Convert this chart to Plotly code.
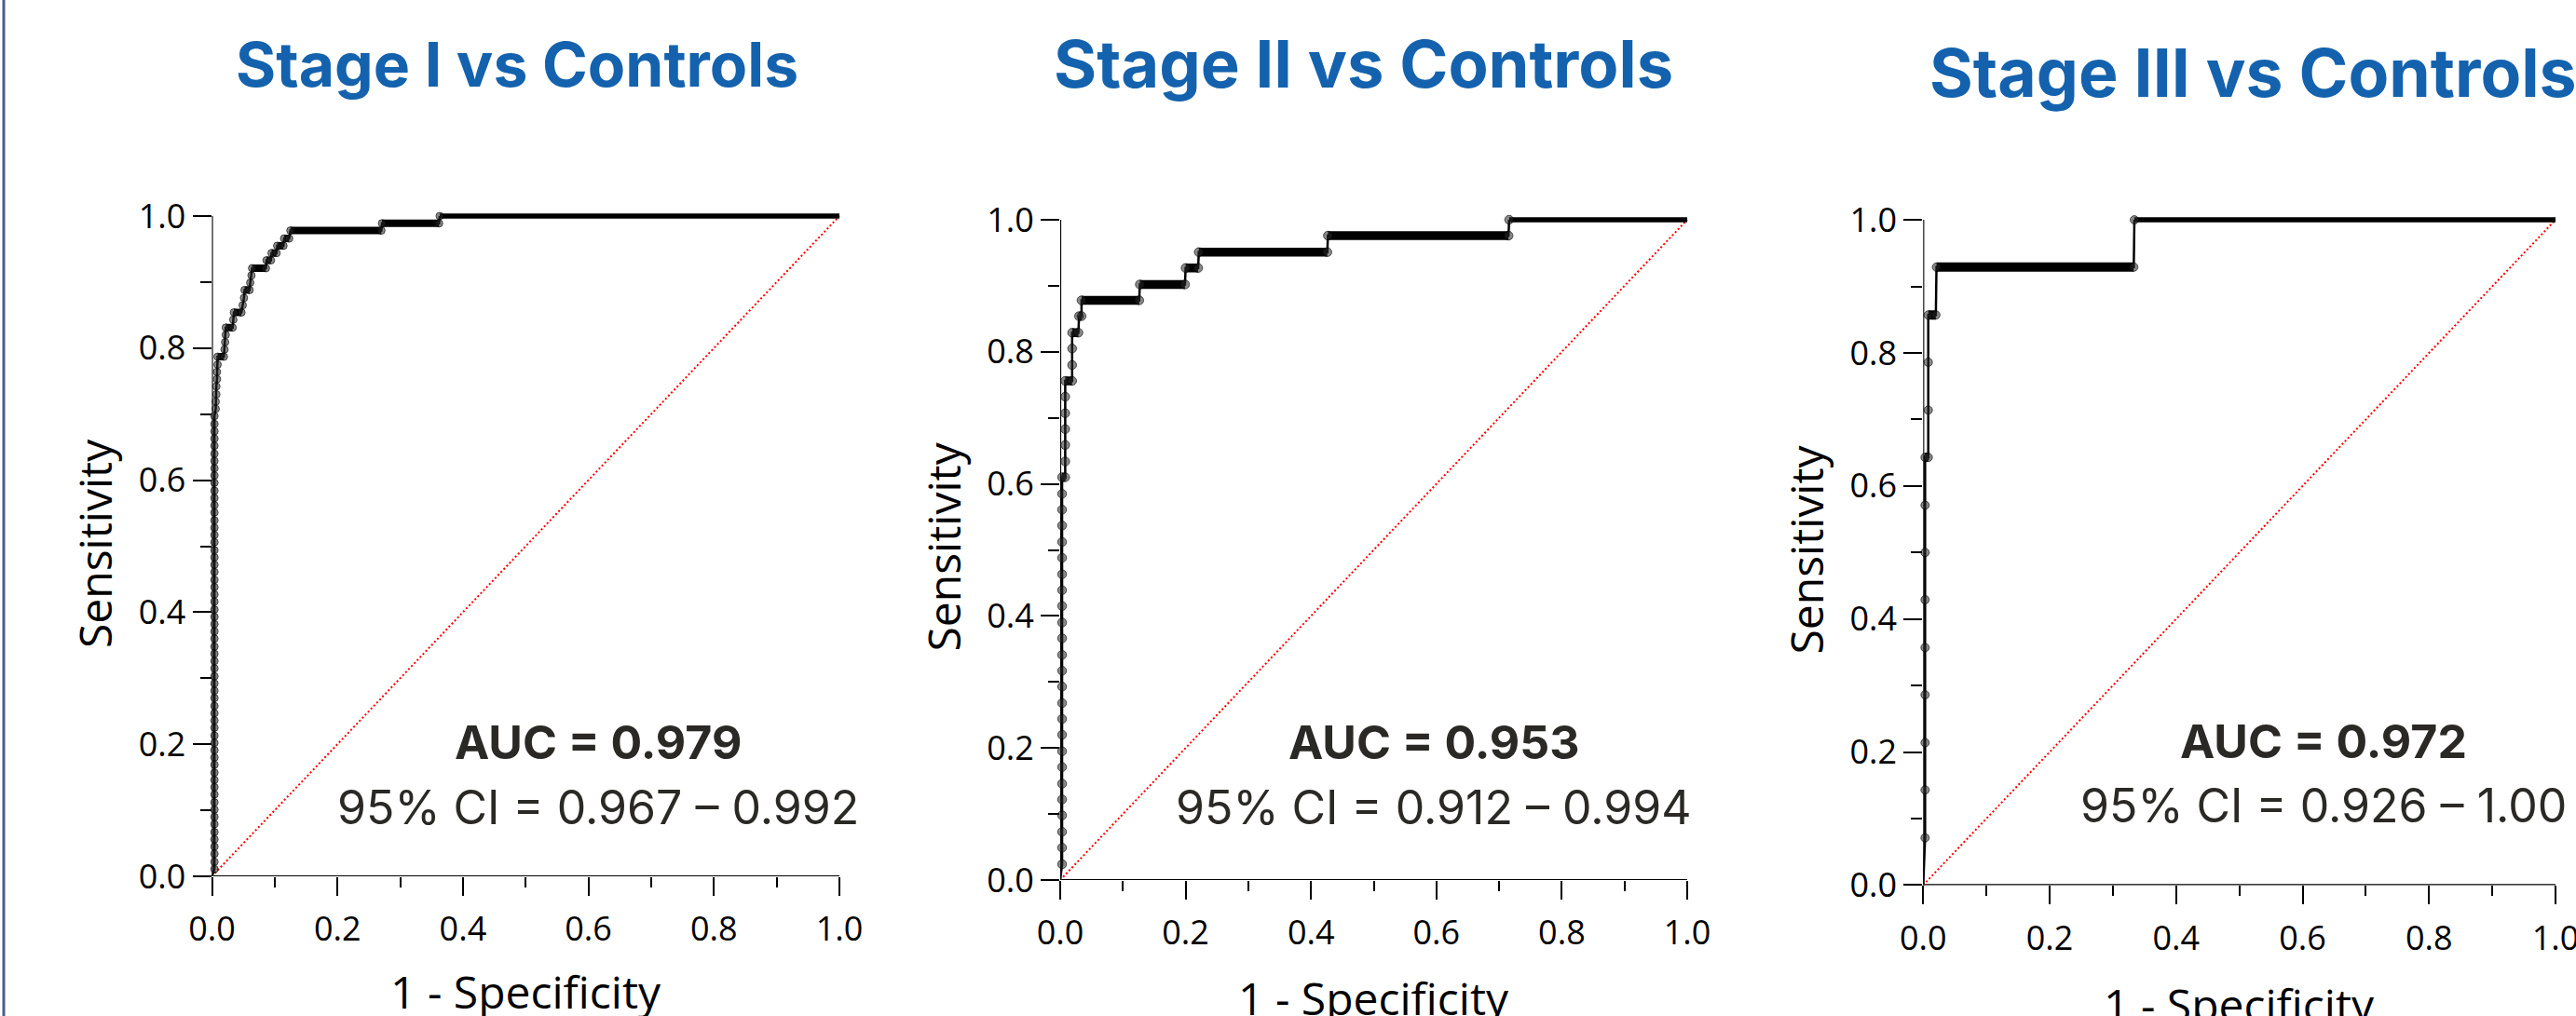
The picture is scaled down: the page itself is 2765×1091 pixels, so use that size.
import plotly.graph_objects as go

W, H = 2765, 1091

titles = ["Stage I vs Controls", "Stage II vs Controls", "Stage III vs Controls"]
auc_texts = ["<b>AUC = 0.979</b>", "<b>AUC = 0.953</b>", "<b>AUC = 0.972</b>"]
ci_texts = ["95% CI = 0.967 – 0.992", "95% CI = 0.912 – 0.994", "95% CI = 0.926 – 1.00"]
x_title = "1 - Specificity"
y_title = "Sensitivity"

# ---- Stage I ----
s1_col_fpr = 0.004
s1_col_tpr = [0.011, 0.022, 0.034, 0.045, 0.056, 0.067, 0.079, 0.090, 0.101, 0.112,
              0.124, 0.135, 0.146, 0.157, 0.169, 0.180, 0.191, 0.202, 0.213, 0.225,
              0.236, 0.247, 0.258, 0.270, 0.281, 0.292, 0.303, 0.315, 0.326, 0.337,
              0.348, 0.360, 0.371, 0.382, 0.393, 0.404, 0.416, 0.427, 0.438, 0.449,
              0.461, 0.472, 0.483, 0.494, 0.506, 0.517, 0.528, 0.539, 0.551, 0.562,
              0.573, 0.584, 0.596, 0.607, 0.618, 0.629, 0.640, 0.652, 0.663, 0.674,
              0.685, 0.697]
s1_fpr = [0.006, 0.006, 0.007, 0.007, 0.008, 0.008, 0.009, 0.009, 0.019, 0.020,
          0.021, 0.022, 0.022, 0.033, 0.034, 0.035, 0.047, 0.049, 0.051, 0.052,
          0.060, 0.061, 0.063, 0.064, 0.086, 0.087, 0.094, 0.095, 0.103, 0.104,
          0.114, 0.115, 0.123, 0.125, 0.270, 0.271, 0.362, 0.363]
s1_tpr = [0.708, 0.719, 0.730, 0.742, 0.753, 0.764, 0.775, 0.787, 0.787, 0.798,
          0.809, 0.820, 0.831, 0.831, 0.843, 0.854, 0.854, 0.865, 0.876, 0.888,
          0.888, 0.899, 0.910, 0.921, 0.921, 0.933, 0.933, 0.944, 0.944, 0.955,
          0.955, 0.966, 0.966, 0.978, 0.978, 0.989, 0.989, 1.000]
s1_run_x0 = [0.009, 0.022, 0.035, 0.052, 0.064, 0.087, 0.095, 0.104, 0.115, 0.125, 0.271]
s1_run_x1 = [0.019, 0.033, 0.047, 0.060, 0.086, 0.094, 0.103, 0.114, 0.123, 0.270, 0.362]
s1_run_y = [0.787, 0.831, 0.854, 0.888, 0.921, 0.933, 0.944, 0.955, 0.966, 0.978, 0.989]
s1_top_x0 = 0.363

# ---- Stage II ----
s2_col_fpr = 0.003
s2_col_tpr = [0.024, 0.049, 0.073, 0.098, 0.122, 0.146, 0.171, 0.195, 0.220, 0.244,
              0.268, 0.293, 0.317, 0.341, 0.366, 0.390, 0.415, 0.439, 0.463, 0.488,
              0.512, 0.537, 0.561, 0.585, 0.610]
s2_fpr = [0.008, 0.008, 0.008, 0.008, 0.008, 0.008, 0.008, 0.019, 0.019, 0.019,
          0.019, 0.029, 0.030, 0.034, 0.034, 0.126, 0.127, 0.199, 0.200, 0.220,
          0.221, 0.426, 0.427, 0.715, 0.716]
s2_tpr = [0.610, 0.634, 0.659, 0.683, 0.707, 0.732, 0.756, 0.756, 0.780, 0.805,
          0.829, 0.829, 0.854, 0.854, 0.878, 0.878, 0.902, 0.902, 0.927, 0.927,
          0.951, 0.951, 0.976, 0.976, 1.000]
s2_run_x0 = [0.003, 0.008, 0.019, 0.030, 0.034, 0.127, 0.200, 0.221, 0.427]
s2_run_x1 = [0.008, 0.019, 0.029, 0.034, 0.126, 0.199, 0.220, 0.426, 0.715]
s2_run_y = [0.610, 0.756, 0.829, 0.854, 0.878, 0.902, 0.927, 0.951, 0.976]
s2_top_x0 = 0.716

# ---- Stage III ----
s3_col_fpr = 0.003
s3_col_tpr = [0.071, 0.143, 0.214, 0.286, 0.357, 0.429, 0.500, 0.571, 0.643]
s3_fpr = [0.008, 0.008, 0.008, 0.008, 0.020, 0.021, 0.333, 0.334]
s3_tpr = [0.643, 0.714, 0.786, 0.857, 0.857, 0.929, 0.929, 1.000]
s3_run_x0 = [0.003, 0.008, 0.021]
s3_run_x1 = [0.008, 0.020, 0.333]
s3_run_y = [0.643, 0.857, 0.929]
s3_top_x0 = 0.334

panels_data = [
    (s1_col_fpr, s1_col_tpr, s1_fpr, s1_tpr, s1_run_x0, s1_run_x1, s1_run_y, s1_top_x0),
    (s2_col_fpr, s2_col_tpr, s2_fpr, s2_tpr, s2_run_x0, s2_run_x1, s2_run_y, s2_top_x0),
    (s3_col_fpr, s3_col_tpr, s3_fpr, s3_tpr, s3_run_x0, s3_run_x1, s3_run_y, s3_top_x0),
]

# ---- layout (pixel calibration of each panel) ----
geom = [
    dict(x0=227.5, x1=901.0, y0=941.0, y1=232.0),
    dict(x0=1138.0, x1=1811.0, y0=945.0, y1=236.0),
    dict(x0=2064.3, x1=2743.0, y0=950.4, y1=236.1),
]
title_pos = [(554.5, 68.5, 66), (1463.5, 68.5, 70.5), (2418, 78, 71.5)]
auc_pos = [(642, 796.5), (1539, 796.5), (2494, 795.5)]
ci_pos = [(642, 866.5), (1539, 866.5), (2494, 865)]
xt_pos = [1064, 1071, 1078]
EXT = 1.02
marker_sizes = [8, 9.5, 9]
run_widths = [8, 9.5, 10]

def pxx(x):
    return x / W

def pyy(y):
    return 1 - y / H

fig = go.Figure()
annotations = []
shapes = []

for i, (col_fpr, col_tpr, fpr, tpr, rx0, rx1, ry, top_x0) in enumerate(panels_data):
    g = geom[i]
    sfx = "" if i == 0 else str(i + 1)
    xa, ya = "x" + sfx, "y" + sfx

    # chance line
    fig.add_trace(go.Scatter(x=[0, 1], y=[0, 1], mode="lines", xaxis=xa, yaxis=ya,
                             line=dict(color="#ff0000", width=2, dash="2px,2.5px"),
                             hoverinfo="skip"))
    # dense runs of overlapping points
    run_x, run_y = [], []
    for a, b, c in zip(rx0, rx1, ry):
        run_x += [a, b, None]
        run_y += [c, c, None]
    fig.add_trace(go.Scatter(x=run_x, y=run_y, mode="lines", xaxis=xa, yaxis=ya,
                             line=dict(color="black", width=run_widths[i]),
                             hoverinfo="skip"))
    # final plateau at sensitivity 1
    fig.add_trace(go.Scatter(x=[top_x0, 1.0], y=[1.0, 1.0], mode="lines", xaxis=xa, yaxis=ya,
                             line=dict(color="black", width=5.5), hoverinfo="skip"))
    # step curve
    cx = [0.0] + [col_fpr] * len(col_tpr) + fpr
    cy = [0.0] + col_tpr + tpr
    fig.add_trace(go.Scatter(x=cx, y=cy, mode="lines", xaxis=xa, yaxis=ya,
                             line=dict(color="black", width=2.5), hoverinfo="skip"))
    # points
    fig.add_trace(go.Scatter(x=cx[1:], y=cy[1:], mode="markers", xaxis=xa, yaxis=ya,
                             cliponaxis=False,
                             marker=dict(size=marker_sizes[i], color="rgba(40,40,40,0.55)",
                                         line=dict(color="rgba(0,0,0,0.6)", width=1)),
                             hoverinfo="skip"))

    xd = [pxx(g["x0"]), pxx(g["x0"] + EXT * (g["x1"] - g["x0"]))]
    yd = [pyy(g["y0"]), pyy(g["y0"] - EXT * (g["y0"] - g["y1"]))]
    common = dict(range=[0, EXT], showline=False, showgrid=False, zeroline=False,
                  automargin=False, ticklabeloverflow="allow",
                  ticks="outside", ticklen=20, tickwidth=2, tickcolor="black",
                  tick0=0, dtick=0.2, tickformat=".1f", fixedrange=True,
                  tickfont=dict(family="Open Sans", size=36, color="black"))
    fig.update_layout(**{
        "xaxis" + sfx: dict(domain=xd, anchor=ya, ticklabelstandoff=5,
                            minor=dict(ticks="outside", dtick=0.1, ticklen=11, tickwidth=2, tickcolor="black"),
                            **common),
        "yaxis" + sfx: dict(domain=yd, anchor=xa,
                            minor=dict(ticks="outside", dtick=0.1, ticklen=12, tickwidth=2, tickcolor="black"),
                            **common),
    })
    # axis lines
    shapes.append(dict(type="line", xref=xa, yref=ya, x0=0, x1=1, y0=0, y1=0,
                       line=dict(color="black", width=2.2), layer="below"))
    shapes.append(dict(type="line", xref=xa, yref=ya, x0=0, x1=0, y0=0, y1=1,
                       line=dict(color="black", width=2.2), layer="below"))

    tx, ty, tsz = title_pos[i]
    annotations.append(dict(text=titles[i], x=pxx(tx), y=pyy(ty), xref="paper", yref="paper",
                            xanchor="center", yanchor="middle", showarrow=False,
                            font=dict(family="Inter", size=tsz, color="#1462ae", weight=700)))
    annotations.append(dict(text=auc_texts[i], x=pxx(auc_pos[i][0]), y=pyy(auc_pos[i][1]),
                            xref="paper", yref="paper", xanchor="center", yanchor="middle",
                            showarrow=False, font=dict(family="Inter", size=50, color="#2b2926")))
    annotations.append(dict(text=ci_texts[i], x=pxx(ci_pos[i][0]), y=pyy(ci_pos[i][1]),
                            xref="paper", yref="paper", xanchor="center", yanchor="middle",
                            showarrow=False, font=dict(family="Inter", size=50, color="#2b2926")))
    annotations.append(dict(text=x_title, x=pxx((g["x0"] + g["x1"]) / 2), y=pyy(xt_pos[i]),
                            xref="paper", yref="paper", xanchor="center", yanchor="middle",
                            showarrow=False, font=dict(family="Open Sans", size=48, color="black")))
    annotations.append(dict(text=y_title, x=pxx(g["x0"] - 126), y=pyy((g["y0"] + g["y1"]) / 2 - 3),
                            xref="paper", yref="paper", xanchor="center", yanchor="middle",
                            textangle=-90, showarrow=False,
                            font=dict(family="Open Sans", size=48, color="black")))

# left border line
shapes.append(dict(type="line", xref="paper", yref="paper", x0=pxx(4), x1=pxx(4), y0=0, y1=1,
                   line=dict(color="#4a5d95", width=3)))

fig.update_layout(width=W, height=H, margin=dict(l=0, r=0, t=0, b=0, autoexpand=False),
                  paper_bgcolor="white", plot_bgcolor="white", showlegend=False,
                  annotations=annotations, shapes=shapes)

fig.write_html("out.html", config={"displayModeBar": False},
               post_script="document.body.style.margin='0';")
